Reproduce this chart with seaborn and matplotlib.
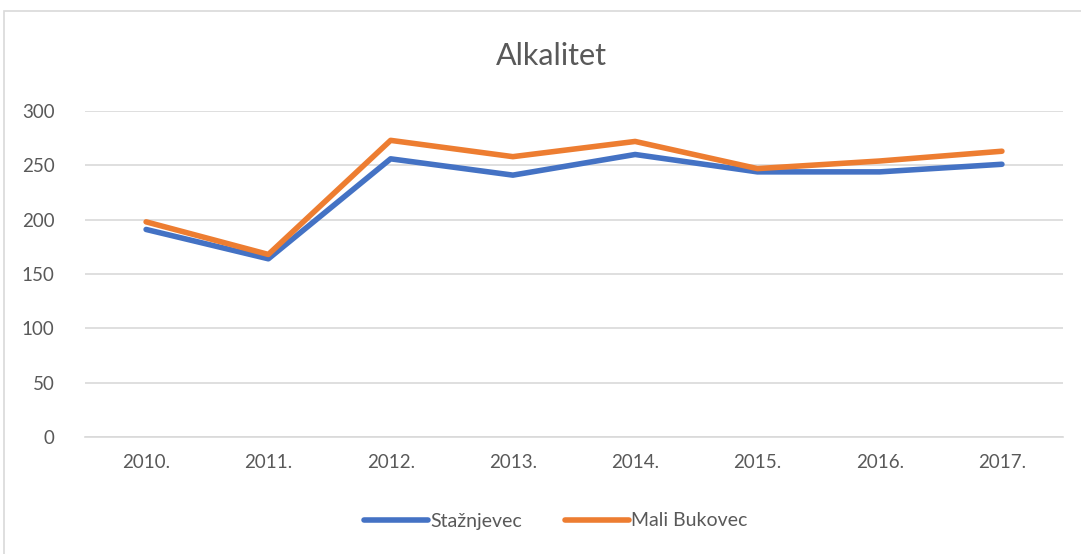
import pandas as pd
import matplotlib.pyplot as plt
import seaborn as sns
from matplotlib.patches import Rectangle

# data
years = ['2010.', '2011.', '2012.', '2013.', '2014.', '2015.', '2016.', '2017.']
staznjevec = [191, 164, 256, 241, 260, 244, 244, 251]
mali_bukovec = [198, 168, 273, 258, 272, 247, 254, 263]

df = pd.DataFrame({
    'Godina': years * 2,
    'Alkalitet': staznjevec + mali_bukovec,
    'Lokacija': ['Stažnjevec'] * len(years) + ['Mali Bukovec'] * len(years),
})

sns.set_style('white')
plt.rcParams['font.family'] = ['Lato', 'DejaVu Sans']

fig = plt.figure(figsize=(10.81, 5.54), dpi=100)
ax = fig.add_axes([0.0786, 0.2112, 0.9048, 0.5884])

# chart border like the Excel chart area
fig.patches.append(Rectangle((4 / 1081, -0.01), 1.1, 1 - 11 / 554 + 0.01,
                             transform=fig.transFigure, fill=False,
                             edgecolor='#d9d9d9', linewidth=1.2))

sns.lineplot(data=df, x='Godina', y='Alkalitet', hue='Lokacija',
             palette=['#4472c4', '#ed7d31'], linewidth=4, sort=False,
             solid_capstyle='round', ax=ax)

ax.set_xlim(-0.5, 7.5)
ax.set_ylim(0, 300)
ax.set_yticks(range(0, 301, 50))
ax.yaxis.grid(True, color='#d9d9d9', linewidth=1.2)
ax.set_axisbelow(True)
for s in ['top', 'right', 'left']:
    ax.spines[s].set_visible(False)
ax.spines['bottom'].set_color('#d9d9d9')
ax.spines['bottom'].set_linewidth(1.2)
ax.tick_params(axis='both', length=0, labelsize=13.5, colors='#595959')
ax.tick_params(axis='x', pad=12)
ax.tick_params(axis='y', pad=22)
ax.set_xlabel('')
ax.set_ylabel('')

fig.text(0.51, 1 - 56 / 554, 'Alkalitet', ha='center', va='center',
         fontsize=22, color='#595959')

leg = ax.legend(loc='center', bbox_to_anchor=(0.514, 1 - 521 / 554),
                bbox_transform=fig.transFigure, ncol=2, frameon=False,
                fontsize=14, handlelength=3.3, handletextpad=0.1,
                columnspacing=2.2, labelcolor='#595959')

fig.savefig('out.png', dpi=100)
